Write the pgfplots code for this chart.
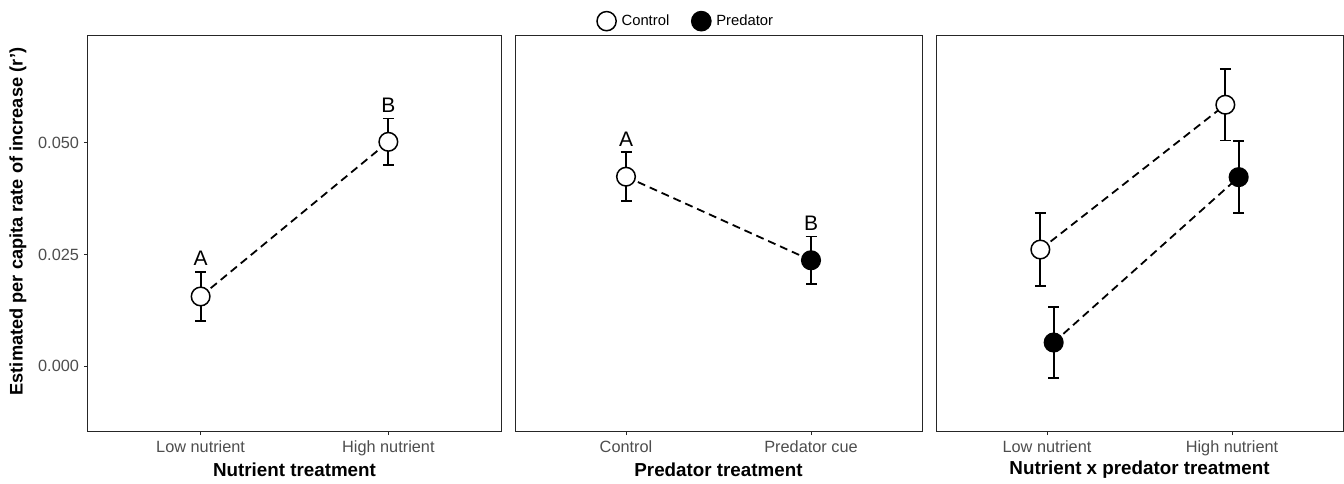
\documentclass[border=0pt]{standalone}
\usepackage{pgfplots}
\pgfplotsset{compat=1.18}
\usepackage{fontspec}
\setmainfont{Liberation Sans}
\definecolor{tickgray}{HTML}{4D4D4D}
\tikzset{letter/.style={font=\fontsize{21}{24}\selectfont, anchor=south, inner sep=0pt, yshift=5.5pt}}
\pgfplotsset{
  panel/.style={
    scale only axis, height=396pt,
    ymin=-0.0145, ymax=0.0741, xmin=0.4, xmax=2.6,
    xtick={1,2}, scaled y ticks=false,
    axis line style={black!85, line width=1pt},
    tick align=outside, xtick pos=bottom, ytick pos=left,
    major tick length=4pt,
    tick style={black!85, line width=0.8pt},
    ticklabel style={font=\fontsize{16.3}{18}\selectfont, text=tickgray},
    xticklabel style={yshift=-2.5pt},
    yticklabel style={xshift=-1.5pt},
    /pgf/number format/assume math mode=true,
    xlabel style={at={(axis description cs:0.5,-0.0985)}, anchor=center, font=\bfseries\fontsize{18.8}{21}\selectfont},
    clip=false,
  },
  dline/.style={black, line width=1.8pt, dash pattern=on 8pt off 5pt, no marks},
  ebars/.style={
    error bars/y dir=both, error bars/y explicit,
    error bars/error bar style={line width=1.8pt, black, solid},
    error bars/error mark options={rotate=90, mark size=5.5pt, line width=1.8pt, black, solid}},
  openpt/.style={only marks, mark=*, mark size=9.3pt, mark options={fill=white, draw=black, line width=1.5pt, solid}, ebars},
  fillpt/.style={only marks, mark=*, mark size=9.3pt, mark options={fill=black, draw=black, line width=1.5pt, solid}, ebars},
}
\begin{document}
\begin{tikzpicture}
\useasboundingbox (0,0) rectangle (1344pt,483pt);
% Panel 1
\begin{axis}[panel, at={(88pt,52pt)}, anchor=south west, width=413pt,
  ytick={0,0.025,0.05}, yticklabels={0.000,0.025,0.050},
  xticklabels={Low nutrient,High nutrient},
  xlabel={Nutrient treatment},
  ylabel={Estimated per capita rate of increase (r')},
  ylabel style={at={(axis description cs:-0.1695,0.529)}, anchor=center, font=\bfseries\fontsize{18.2}{20}\selectfont}]
\addplot[dline] coordinates {(1,0.0156) (2,0.0502)};
\addplot[openpt] coordinates {(1,0.0156) +- (0,0.0055) (2,0.0502) +- (0,0.0052)};
\node[letter] at (axis cs:1,0.0212) {A};
\node[letter] at (axis cs:2,0.0554) {B};
\end{axis}
% Panel 2
\begin{axis}[panel, at={(515pt,52pt)}, anchor=south west, width=407pt,
  ytick=\empty,
  xticklabels={Control,Predator cue},
  xlabel={Predator treatment},
  legend columns=2,
  legend style={at={(axis description cs:0.2,1.035)}, anchor=west, draw=none, fill=none,
    font=\fontsize{14.8}{16}\selectfont, inner sep=0pt,
    /tikz/every even column/.append style={column sep=20pt}},
  legend image code/.code={\path[draw=none] (-10pt,0pt) (13pt,0pt); \draw[#1] plot coordinates {(0pt,0pt)};}]
\addlegendimage{only marks, mark=*, mark size=9.6pt, mark options={fill=white, draw=black, line width=1.5pt}}
\addlegendentry{Control}
\addlegendimage{only marks, mark=*, mark size=9.6pt, mark options={fill=black, draw=black, line width=1.5pt}}
\addlegendentry{Predator}
\addplot[forget plot, dline] coordinates {(1,0.0424) (2,0.0237)};
\addplot[forget plot, openpt] coordinates {(1,0.0424) +- (0,0.0055)};
\addplot[forget plot, fillpt] coordinates {(2,0.0237) +- (0,0.0053)};
\node[letter] at (axis cs:1,0.0478) {A};
\node[letter] at (axis cs:2,0.0290) {B};
\end{axis}
% Panel 3
\begin{axis}[panel, at={(936pt,52pt)}, anchor=south west, width=407pt,
  ytick=\empty,
  xticklabels={Low nutrient,High nutrient},
  xlabel={Nutrient x predator treatment}]
\addplot[dline] coordinates {(0.964,0.0261) (1.964,0.0585)};
\addplot[dline] coordinates {(1.036,0.0053) (2.036,0.0423)};
\addplot[openpt] coordinates {(0.964,0.0261) +- (0,0.0081) (1.964,0.0585) +- (0,0.0080)};
\addplot[fillpt] coordinates {(1.036,0.0053) +- (0,0.0080) (2.036,0.0423) +- (0,0.0080)};
\end{axis}
\end{tikzpicture}
\end{document}
